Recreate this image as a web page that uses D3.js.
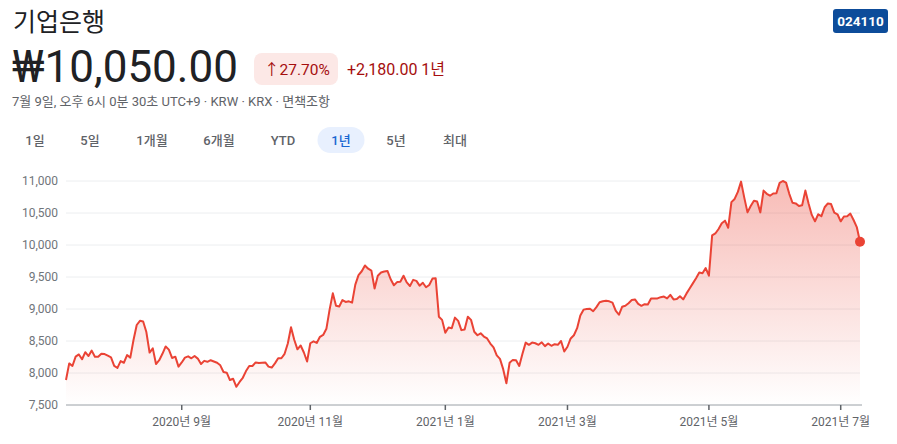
<!DOCTYPE html>
<html><head><meta charset="utf-8">
<script src="https://cdn.jsdelivr.net/npm/d3@7"></script>
<style>
html,body{margin:0;padding:0;background:#fff;}
svg{display:block;font-family:Roboto,"Noto Sans CJK KR",sans-serif;}
</style></head>
<body>
<svg id="chart" width="897" height="444"></svg>
<script>
// ---- data ----
const title = "기업은행";
const ticker = "024110";
const priceText = "₩10,050.00";
const changePct = "27.70%";
const changeAbs = "+2,180.00 1년";
const subtitle = "7월 9일, 오후 6시 0분 30초 UTC+9 · KRW · KRX · 면책조항";
const ranges = ["1일","5일","1개월","6개월","YTD","1년","5년","최대"];
const activeRange = "1년";
const yTicks = [7500,8000,8500,9000,9500,10000,10500,11000];
const xTickIndex = [36,76,118,156,200,241];
const xTickLabels = ["2020년 9월","2020년 11월","2021년 1월","2021년 3월","2021년 5월","2021년 7월"];
// daily closing prices, 10 Jul 2020 .. 9 Jul 2021 (trading days)
const prices = [
7890,8150,8110,8255,8290,8215,8325,8265,8350,8255,
8255,8300,8295,8270,8245,8110,8080,8185,8160,8280,
8240,8515,8750,8815,8805,8640,8320,8385,8140,8200,
8300,8415,8365,8235,8255,8100,8165,8240,8260,8230,
8265,8225,8140,8190,8175,8200,8180,8160,8120,8015,
8005,7890,7910,7785,7860,7925,8030,8110,8110,8165,
8155,8160,8165,8100,8085,8150,8230,8230,8300,8460,
8715,8520,8370,8430,8320,8180,8465,8495,8470,8565,
8595,8690,8990,9245,9050,9040,9140,9110,9120,9100,
9380,9530,9590,9680,9630,9600,9320,9520,9570,9585,
9595,9465,9370,9420,9425,9520,9415,9360,9455,9440,
9365,9410,9340,9375,9475,9480,8880,8830,8630,8710,
8700,8865,8815,8670,8680,8880,8830,8645,8590,8620,
8570,8540,8460,8400,8275,8220,8060,7840,8160,8205,
8200,8110,8300,8475,8440,8475,8465,8440,8480,8420,
8460,8425,8450,8440,8500,8335,8410,8540,8590,8700,
8900,8990,9000,9005,8965,9030,9105,9120,9130,9120,
9100,8975,8910,9035,9050,9090,9140,9150,9080,9050,
9075,9070,9165,9165,9165,9185,9195,9165,9220,9150,
9155,9200,9150,9240,9320,9400,9480,9570,9560,9640,
9520,10150,10180,10250,10340,10380,10270,10670,10720,10830,
10990,10740,10510,10610,10690,10680,10510,10850,10800,10770,
10805,10810,10970,11000,10975,10800,10660,10650,10610,10620,
10850,10650,10470,10370,10480,10450,10590,10650,10640,10505,
10480,10370,10445,10450,10490,10390,10280,10050
];

// ---- drawing ----
(function(){
const svg = d3.select("#chart");
const red = "#ea4335";
const darkRed = "#a50e0e";

// header
svg.append("text").attr("x",13).attr("y",31).attr("font-size",25).attr("fill","#202124").text(title);

const tg = svg.append("g");
tg.append("rect").attr("x",833).attr("y",9).attr("width",55).attr("height",24).attr("rx",3).attr("fill","#0d4c9a");
tg.append("text").attr("x",860.5).attr("y",26).attr("text-anchor","middle").attr("font-size",13.5).attr("font-weight",700).attr("fill","#fff").text(ticker);

svg.append("text").attr("x",12).attr("y",82).attr("font-size",44).attr("fill","#202124").text(priceText);

svg.append("rect").attr("x",254).attr("y",53).attr("width",84).attr("height",32).attr("rx",8).attr("fill","#fce8e6");
svg.append("text").attr("x",264).attr("y",75).attr("font-size",15.5).attr("fill",darkRed).text("↑" + changePct);
svg.append("text").attr("x",347).attr("y",75).attr("font-size",16).attr("fill",darkRed).text(changeAbs);

svg.append("text").attr("x",12).attr("y",106).attr("font-size",13).attr("fill","#5f6368").text(subtitle);

const rangeX = [35,90,152,219,283,341,396,455];
ranges.forEach((r,i)=>{
  const active = r===activeRange;
  if(active){
    svg.append("rect").attr("x",rangeX[i]-23.5).attr("y",127).attr("width",47).attr("height",26).attr("rx",13).attr("fill","#e8f0fe");
  }
  svg.append("text").attr("x",rangeX[i]).attr("y",144.5).attr("text-anchor","middle")
    .attr("font-size",13).attr("font-weight",500).attr("fill",active?"#1967d2":"#5f6368").text(r);
});

// chart
const pl = 66, pr = 860, pt = 181, pb = 405;
const x = d3.scaleLinear().domain([0, prices.length-1]).range([pl, pr]);
const y = d3.scaleLinear().domain([7500, 11000]).range([pb, pt]);

// gridlines
svg.append("g").selectAll("line").data(yTicks.filter(t=>t!==7500)).join("line")
  .attr("x1",pl).attr("x2",pr).attr("y1",d=>y(d)).attr("y2",d=>y(d))
  .attr("stroke","#eceef0").attr("stroke-width",1);

// y labels
svg.append("g").selectAll("text").data(yTicks).join("text")
  .attr("x",58).attr("y",d=>y(d)+4).attr("text-anchor","end")
  .attr("font-size",12).attr("fill","#70757a").text(d=>d3.format(",")(d));

// gradient area
const defs = svg.append("defs");
const grad = defs.append("linearGradient").attr("id","g1").attr("gradientUnits","userSpaceOnUse")
  .attr("x1",0).attr("x2",0).attr("y1",pt).attr("y2",pb);
grad.append("stop").attr("offset","0%").attr("stop-color",red).attr("stop-opacity",0.36);
grad.append("stop").attr("offset","100%").attr("stop-color",red).attr("stop-opacity",0.0);

const area = d3.area().x((d,i)=>x(i)).y0(pb).y1(d=>y(d));
svg.append("path").datum(prices).attr("d",area).attr("fill","url(#g1)");

const line = d3.line().x((d,i)=>x(i)).y(d=>y(d));
svg.append("path").datum(prices).attr("d",line).attr("fill","none")
  .attr("stroke",red).attr("stroke-width",2).attr("stroke-linejoin","round");

svg.append("circle").attr("cx",x(prices.length-1)).attr("cy",y(prices[prices.length-1])).attr("r",5).attr("fill",red);

// baseline axis
svg.append("line").attr("x1",pl).attr("x2",pr+2).attr("y1",pb).attr("y2",pb)
  .attr("stroke","#9aa0a6").attr("stroke-width",1);

const xt = svg.append("g");
xTickIndex.forEach((ix,k)=>{
  xt.append("line").attr("x1",x(ix)).attr("x2",x(ix)).attr("y1",pb).attr("y2",pb+5)
    .attr("stroke","#5f6368").attr("stroke-width",1.5);
  xt.append("text").attr("x",x(ix)).attr("y",426).attr("text-anchor","middle")
    .attr("font-size",12).attr("fill","#5f6368").text(xTickLabels[k]);
});
})();
</script>
</body></html>
